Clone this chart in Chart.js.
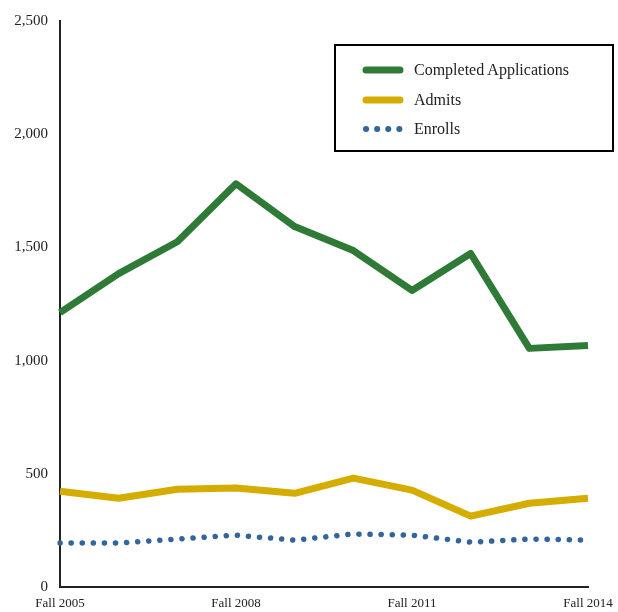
<!DOCTYPE html>
<html>
<head>
<meta charset="utf-8">
<script src="https://cdn.jsdelivr.net/npm/chart.js@4/dist/chart.umd.min.js"></script>
<style>
  html, body { margin: 0; padding: 0; background: #fff; }
  #wrap { position: relative; width: 618px; height: 612px; }
  #legend {
    position: absolute; left: 334px; top: 44px; width: 276px; height: 104px;
    border: 2px solid #000; background: #fff;
    font-family: "Liberation Serif", "DejaVu Serif", serif; font-size: 16px; color: #222;
  }
  .item { position: absolute; left: 26px; height: 20px; display: flex; align-items: center; }
  .swatch { width: 42px; margin-right: 10px; }
</style>
</head>
<body>
<div id="wrap">
  <canvas id="chart" width="618" height="612"></canvas>
  <div id="legend"></div>
</div>
<script>
const terms = ["Fall 2005", "Fall 2006", "Fall 2007", "Fall 2008", "Fall 2009",
               "Fall 2010", "Fall 2011", "Fall 2012", "Fall 2013", "Fall 2014"];
const applications = [1212, 1384, 1525, 1781, 1592, 1486, 1310, 1473, 1054, 1067];
const admits = [423, 392, 432, 437, 414, 481, 428, 313, 370, 392];
const enrolls = [194, 194, 212, 229, 207, 234, 229, 198, 212, 207];

const green = "#2e7a36";
const gold = "#d4ad00";
const blue = "#32659d";
const ink = "#222";
const serif = '"Liberation Serif", "DejaVu Serif", serif';

const chart = new Chart(document.getElementById("chart"), {
  type: "line",
  data: {
    labels: terms,
    datasets: [
      {
        label: "Completed Applications",
        data: applications,
        borderColor: green,
        borderWidth: 7,
        pointRadius: 0,
        tension: 0,
        borderJoinStyle: "round"
      },
      {
        label: "Admits",
        data: admits,
        borderColor: gold,
        borderWidth: 7,
        pointRadius: 0,
        tension: 0,
        borderJoinStyle: "round"
      },
      {
        label: "Enrolls",
        data: enrolls,
        borderColor: blue,
        borderWidth: 5.5,
        borderCapStyle: "round",
        borderDash: [0.1, 11],
        pointRadius: 0,
        tension: 0
      }
    ]
  },
  options: {
    responsive: false,
    animation: false,
    layout: { padding: { top: 20, right: 30, bottom: 0, left: 0 } },
    plugins: { legend: { display: false }, tooltip: { enabled: false } },
    scales: {
      x: {
        grid: { display: false, drawTicks: false },
        border: { color: ink, width: 2 },
        ticks: {
          autoSkip: false,
          maxRotation: 0,
          padding: 9,
          color: ink,
          font: { family: serif, size: 13 },
          callback: (val, i) => (i % 3 === 0 ? terms[i] : "")
        },
        afterFit: (scale) => {
          scale.height = 25;
          scale.paddingLeft = 0;
          scale.paddingRight = 0;
        }
      },
      y: {
        min: 0,
        max: 2500,
        grid: { display: false, drawTicks: false },
        border: { color: ink, width: 2 },
        ticks: {
          stepSize: 500,
          padding: 12,
          color: ink,
          font: { family: serif, size: 15 },
          callback: (val) => val.toLocaleString("en-US")
        },
        afterFit: (scale) => { scale.width = 60; }
      }
    }
  }
});

// HTML legend built from the datasets
const legend = document.getElementById("legend");
chart.data.datasets.forEach((ds, i) => {
  const item = document.createElement("div");
  item.className = "item";
  item.style.top = (14 + i * 29.5) + "px";
  const sw = document.createElement("canvas");
  sw.className = "swatch";
  sw.width = 42; sw.height = 20;
  const ctx = sw.getContext("2d");
  ctx.strokeStyle = ds.borderColor;
  ctx.lineCap = "round";
  ctx.lineWidth = ds.borderDash ? 6 : 7;
  if (ds.borderDash) ctx.setLineDash([0.1, 11]);
  ctx.beginPath();
  ctx.moveTo(4, 10);
  ctx.lineTo(ds.borderDash ? 40 : 38, 10);
  ctx.stroke();
  item.appendChild(sw);
  const txt = document.createElement("span");
  txt.textContent = ds.label;
  item.appendChild(txt);
  legend.appendChild(item);
});
</script>
</body>
</html>
